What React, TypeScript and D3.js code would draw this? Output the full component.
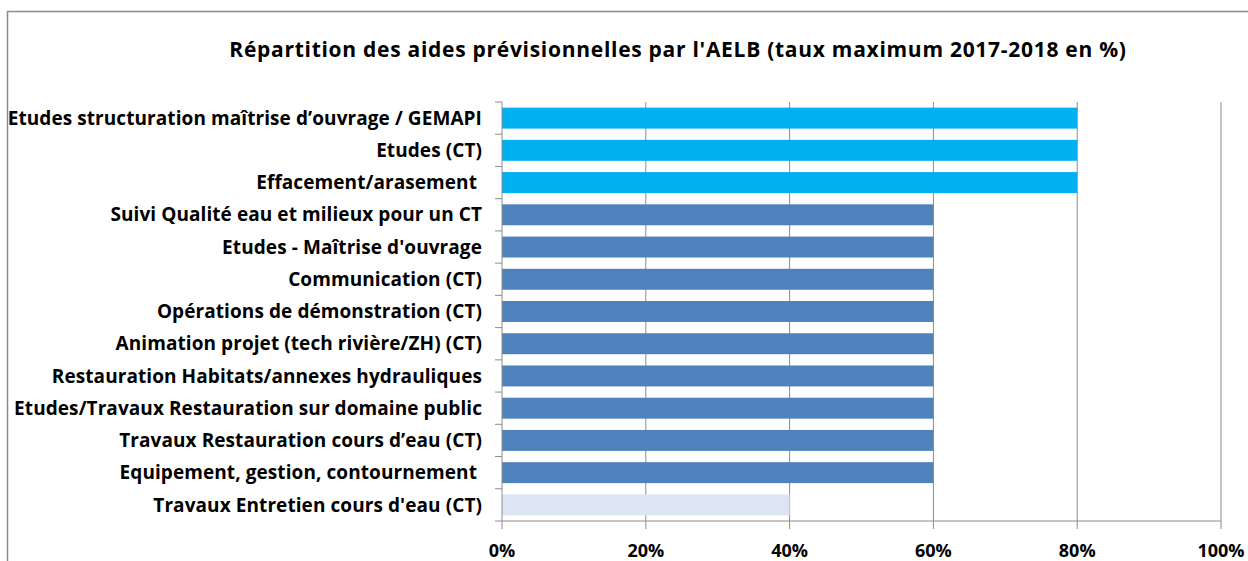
import React from "react";
import * as d3 from "d3";

// categories top to bottom
const categories = [
  "Etudes structuration maîtrise d’ouvrage / GEMAPI",
  "Etudes (CT)",
  "Effacement/arasement ",
  "Suivi Qualité eau et milieux pour un CT",
  "Etudes - Maîtrise d'ouvrage",
  "Communication (CT)",
  "Opérations de démonstration (CT)",
  "Animation projet (tech rivière/ZH) (CT)",
  "Restauration Habitats/annexes hydrauliques",
  "Etudes/Travaux Restauration sur domaine public",
  "Travaux Restauration cours d’eau (CT)",
  "Equipement, gestion, contournement ",
  "Travaux Entretien cours d'eau (CT)",
];
const values = [80, 80, 80, 60, 60, 60, 60, 60, 60, 60, 60, 60, 40];
const barColors = [
  "#00B0F0", "#00B0F0", "#00B0F0",
  "#4F81BD", "#4F81BD", "#4F81BD", "#4F81BD", "#4F81BD", "#4F81BD", "#4F81BD", "#4F81BD", "#4F81BD",
  "#DCE6F2",
];
const xTicks = [0, 20, 40, 60, 80, 100];
const title = "Répartition des aides prévisionnelles par l'AELB (taux maximum 2017-2018 en %)";

const W = 1248;
const H = 561;
const plot = { left: 502, right: 1221, top: 102, bottom: 521 };
const font = "'Open Sans', 'Noto Sans', sans-serif";

export default function App() {
  const x = d3.scaleLinear().domain([0, 100]).range([plot.left, plot.right]);
  const y = d3.scaleBand<string>().domain(categories).range([plot.top, plot.bottom]).paddingInner(0.35).paddingOuter(0.175);
  const step = y.step();
  const boundaries = d3.range(categories.length + 1).map((i) => plot.top + i * step);

  return (
    <svg width={W} height={H} style={{ position: "absolute", left: 0, top: 0, background: "#fff" }}>
      <rect x={0} y={0} width={W} height={H} fill="#fff" />
      {/* chart border */}
      <path d={`M7.5,${H} V11.5 H${W}`} fill="none" stroke="#8c8c8c" strokeWidth={1.5} />
      <text x={678} y={57} textAnchor="middle" fontFamily={font} fontWeight="bold" fontSize={21} letterSpacing={0.72} fill="#000">
        {title}
      </text>
      {/* grid */}
      {xTicks.slice(1).map((t) => (
        <line key={t} x1={x(t)} x2={x(t)} y1={plot.top} y2={plot.bottom} stroke="#8c8c8c" strokeWidth={1} />
      ))}
      {/* bars */}
      {categories.map((c, i) => (
        <rect key={c} x={x(0)} y={y(c)} width={x(values[i]) - x(0)} height={y.bandwidth()} fill={barColors[i]} />
      ))}
      {/* axes */}
      <line x1={plot.left} x2={plot.right} y1={plot.bottom} y2={plot.bottom} stroke="#8c8c8c" />
      <line x1={plot.left} x2={plot.left} y1={plot.top} y2={plot.bottom} stroke="#8c8c8c" />
      {xTicks.map((t) => (
        <line key={t} x1={x(t)} x2={x(t)} y1={plot.bottom} y2={plot.bottom + 8} stroke="#8c8c8c" />
      ))}
      {boundaries.map((b, i) => (
        <line key={i} x1={plot.left - 7} x2={plot.left} y1={b} y2={b} stroke="#8c8c8c" />
      ))}
      {xTicks.map((t) => (
        <text key={t} x={x(t)} y={557} textAnchor="middle" fontFamily={font} fontWeight="bold" fontSize={18} fill="#000">
          {t}%
        </text>
      ))}
      {categories.map((c) => (
        <text key={c} x={482} y={(y(c) as number) + y.bandwidth() / 2} dy="0.35em" textAnchor="end" fontFamily={font} fontWeight="bold" fontSize={19} letterSpacing={0.08} fill="#000" style={{ whiteSpace: "pre" }}>
          {c}
        </text>
      ))}
    </svg>
  );
}
